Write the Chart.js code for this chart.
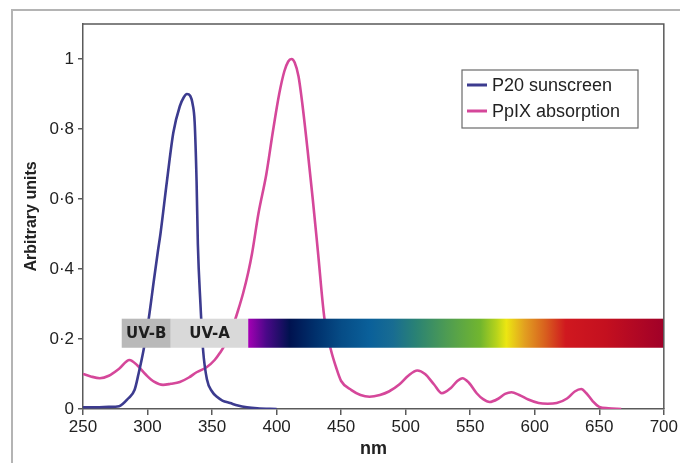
<!DOCTYPE html>
<html>
<head>
<meta charset="utf-8">
<script src="https://cdn.jsdelivr.net/npm/chart.js@4.4.0/dist/chart.umd.min.js"></script>
<style>
  body { margin: 0; background: #fff; }
  #wrap { width: 680px; height: 463px; }
</style>
</head>
<body>
<div id="wrap"><canvas id="specChart" width="680" height="463"></canvas></div>
<script>
"use strict";

// axis ticks
var nmTicks = [250, 300, 350, 400, 450, 500, 550, 600, 650, 700];
var unitTicks = [0, 0.2, 0.4, 0.6, 0.8, 1];

// P20 sunscreen
var p20Nm     = [250, 260, 270, 278, 285, 290, 293, 297, 301, 305, 308, 310, 315, 320, 325, 328, 330.5, 333, 335, 336.5, 338, 339, 341, 343, 346, 350, 354, 358, 364, 370, 377, 385, 400];
var p20Values = [0.005, 0.005, 0.006, 0.008, 0.03, 0.055, 0.1, 0.17, 0.26, 0.37, 0.45, 0.5, 0.65, 0.79, 0.865, 0.89, 0.9, 0.895, 0.87, 0.82, 0.65, 0.47, 0.3, 0.17, 0.085, 0.05, 0.034, 0.024, 0.017, 0.01, 0.005, 0.002, 0];

// PpIX absorption
var ppixNm     = [250, 256, 263, 270, 278, 286, 292, 299, 305, 312, 318, 325, 332, 338, 346, 352, 356, 361, 366, 370, 374, 378, 381, 386, 392, 397, 402, 406, 409, 411.5, 414, 417, 420, 424, 428, 432, 437, 442, 446, 450, 458, 465, 472, 480, 487, 495, 502, 509, 515, 522, 528, 535, 540, 544, 549, 555, 560, 565, 572, 577, 582, 588, 595, 603, 610, 617, 625, 631, 636, 640, 645, 650, 657, 667];
var ppixValues = [0.1, 0.093, 0.088, 0.095, 0.115, 0.14, 0.125, 0.097, 0.078, 0.069, 0.072, 0.077, 0.09, 0.105, 0.12, 0.14, 0.16, 0.19, 0.235, 0.28, 0.33, 0.39, 0.445, 0.56, 0.67, 0.79, 0.9, 0.965, 0.993, 1.0, 0.99, 0.95, 0.87, 0.74, 0.6, 0.45, 0.26, 0.17, 0.12, 0.08, 0.054, 0.04, 0.035, 0.04, 0.05, 0.07, 0.095, 0.11, 0.1, 0.07, 0.045, 0.06, 0.08, 0.088, 0.075, 0.045, 0.028, 0.02, 0.03, 0.043, 0.048, 0.04, 0.027, 0.017, 0.015, 0.017, 0.03, 0.05, 0.057, 0.045, 0.022, 0.006, 0.002, 0];

// UV bands and visible spectrum bar
var bandLabels = ['UV-B', 'UV-A'];
var bandFrom   = [280, 318];
var bandTo     = [318, 378];
var bandColors = ['#b9b9b9', '#d9d9d9'];
var barLow = 0.175, barHigh = 0.258;
var spectrumNm     = [378, 392, 410, 430, 450, 472, 490, 508, 532, 558, 570, 578, 592, 608, 624, 655, 700];
var spectrumColors = ['#a400b4', '#4a0888', '#00124f', '#00306c', '#064c86', '#0a609a', '#186c92', '#2a8274', '#4e9c52', '#72b62e', '#b4d21c', '#ece612', '#e2a020', '#d8601e', '#d0181f', '#c4101f', '#a00028'];

var frameAndBars = {
    id: 'frameAndBars',
    beforeDraw: function (chart) {
        var c = chart.ctx;
        c.save();
        c.strokeStyle = '#b4b4b4';
        c.lineWidth = 2;
        c.beginPath();
        c.moveTo(12, 463);
        c.lineTo(12, 10);
        c.lineTo(680, 10);
        c.stroke();
        c.restore();
    },
    afterDatasetsDraw: function (chart) {
        var c = chart.ctx, xs = chart.scales.x, ys = chart.scales.y;
        var top = ys.getPixelForValue(barHigh), bot = ys.getPixelForValue(barLow);
        c.save();
        for (var i = 0; i < bandLabels.length; i++) {
            var x0 = xs.getPixelForValue(bandFrom[i]), x1 = xs.getPixelForValue(bandTo[i]);
            c.fillStyle = bandColors[i];
            c.fillRect(x0, top, x1 - x0, bot - top);
            c.fillStyle = '#1e1e1e';
            c.font = 'bold 15px "DejaVu Sans"';
            c.textAlign = 'center';
            c.textBaseline = 'middle';
            c.fillText(bandLabels[i], (x0 + x1) / 2, (top + bot) / 2 + 1);
        }
        var s0 = xs.getPixelForValue(spectrumNm[0]);
        var s1 = xs.getPixelForValue(spectrumNm[spectrumNm.length - 1]);
        var grad = c.createLinearGradient(s0, 0, s1, 0);
        for (var j = 0; j < spectrumNm.length; j++) {
            grad.addColorStop((spectrumNm[j] - spectrumNm[0]) / (spectrumNm[spectrumNm.length - 1] - spectrumNm[0]), spectrumColors[j]);
        }
        c.fillStyle = grad;
        c.fillRect(s0, top, s1 - s0, bot - top);

        // box top/right edges
        var a = chart.chartArea;
        c.strokeStyle = '#5a5a5a';
        c.lineWidth = 1.5;
        c.beginPath();
        c.moveTo(a.left, a.top);
        c.lineTo(a.right, a.top);
        c.lineTo(a.right, a.bottom);
        c.stroke();

        // legend box
        var lx = 462, ly = 70, lw = 176, lh = 58;
        c.fillStyle = '#fff';
        c.fillRect(lx, ly, lw, lh);
        c.strokeStyle = '#6a6a6a';
        c.lineWidth = 1.2;
        c.strokeRect(lx, ly, lw, lh);
        c.font = '18px "Liberation Sans"';
        c.textAlign = 'left';
        c.textBaseline = 'middle';
        chart.data.datasets.forEach(function (ds, k) {
            var y = ly + 15 + k * 26;
            c.strokeStyle = ds.borderColor;
            c.lineWidth = 3;
            c.beginPath();
            c.moveTo(lx + 5, y);
            c.lineTo(lx + 25, y);
            c.stroke();
            c.fillStyle = '#222';
            c.fillText(ds.label, lx + 30, y + 1);
        });
        c.restore();
    }
};

function fmtUnit(v) {
    if (v === 0) return '0';
    if (v === 1) return '1';
    return v.toFixed(1).replace('.', '\u00b7');
}

var ctx = document.getElementById('specChart');
var specChart = new Chart(ctx, {
    type: 'line',
    data: {
        datasets: [{
            label: 'P20 sunscreen',
            data: p20Nm.map(function (x, i) { return { x: x, y: p20Values[i] }; }),
            borderColor: '#3c3b8f',
            borderWidth: 2.6,
            pointRadius: 0,
            cubicInterpolationMode: 'monotone'
        }, {
            label: 'PpIX absorption',
            data: ppixNm.map(function (x, i) { return { x: x, y: ppixValues[i] }; }),
            borderColor: '#d5479a',
            borderWidth: 2.6,
            pointRadius: 0,
            cubicInterpolationMode: 'monotone'
        }]
    },
    options: {
        responsive: false,
        animation: false,
        layout: { padding: { top: 24, right: 15, left: 0, bottom: 0 } },
        plugins: { legend: { display: false }, tooltip: { enabled: false } },
        scales: {
            x: {
                type: 'linear',
                min: 250,
                max: 700,
                afterBuildTicks: function (axis) { axis.ticks = nmTicks.map(function (v) { return { value: v }; }); },
                afterFit: function (axis) { axis.height = 54; },
                ticks: { color: '#222', font: { family: 'Liberation Sans', size: 17 }, padding: 2, maxRotation: 0 },
                grid: { drawOnChartArea: false, tickLength: 6, color: '#5a5a5a', lineWidth: 1.5 },
                border: { color: '#5a5a5a', width: 1.5 },
                title: { display: true, text: 'nm', color: '#222', font: { family: 'Liberation Sans', size: 18, weight: 'bold' }, padding: { top: 0, bottom: 3 } }
            },
            y: {
                min: 0,
                max: 1.1,
                afterBuildTicks: function (axis) { axis.ticks = unitTicks.map(function (v) { return { value: v }; }); },
                afterFit: function (axis) { axis.width = 83; },
                ticks: { color: '#222', font: { family: 'Liberation Sans', size: 17 }, padding: 4, callback: function (v) { return fmtUnit(v); } },
                grid: { drawOnChartArea: false, tickLength: 5, color: '#5a5a5a', lineWidth: 1.5 },
                border: { color: '#5a5a5a', width: 1.5 },
                title: { display: true, text: 'Arbitrary units', color: '#222', font: { family: 'Liberation Sans', size: 16, weight: 'bold' }, padding: { top: 22, bottom: 0 } }
            }
        }
    },
    plugins: [frameAndBars]
});
</script>
</body>
</html>
